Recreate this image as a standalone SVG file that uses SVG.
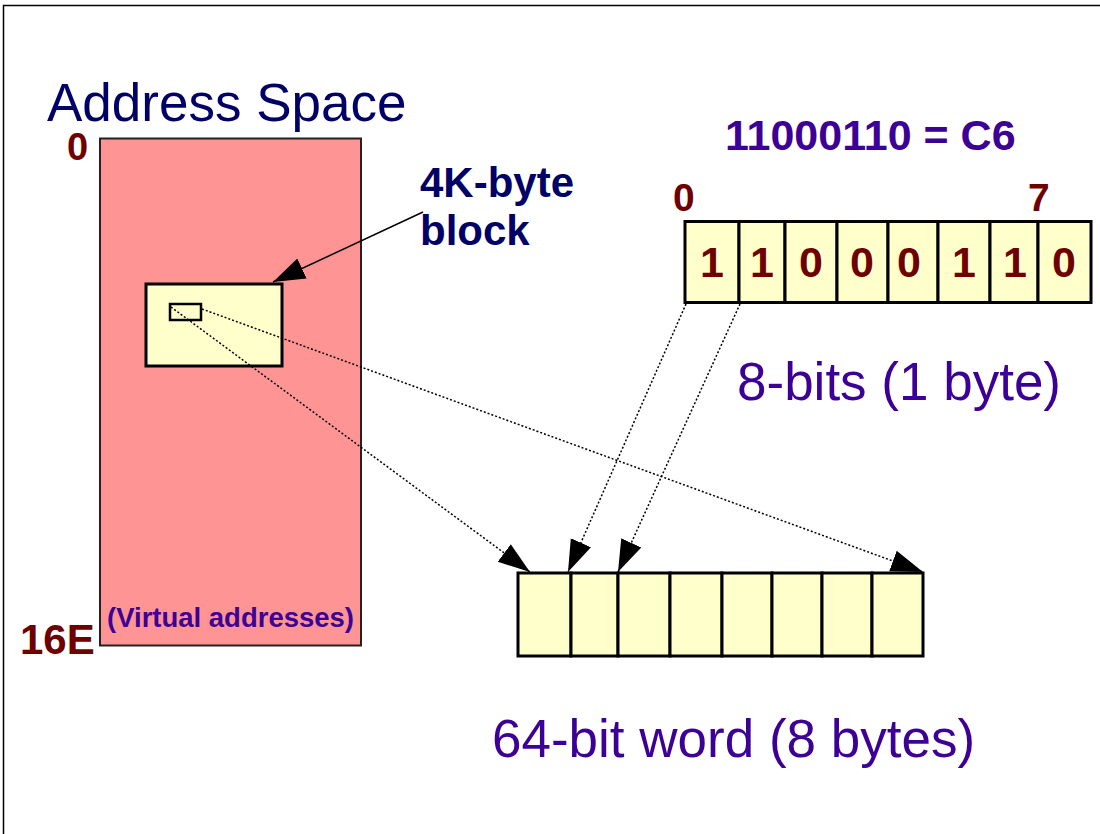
<svg xmlns="http://www.w3.org/2000/svg" width="1100" height="834" viewBox="0 0 1100 834">
<style>
.cell{fill:#ffffcc;stroke:#000;stroke-width:3}
.dot{fill:none;stroke:#000;stroke-width:1.5;stroke-dasharray:2 2}
.sans{font-family:"Liberation Sans",Arial,sans-serif}
.red{fill:#6e0000;font-weight:bold}
.pur{fill:#3d0096}
.navy{fill:#000066}
</style>
<defs>
<marker id="ah" markerUnits="userSpaceOnUse" markerWidth="34" markerHeight="24" viewBox="0 0 34 24" refX="32" refY="12" orient="auto">
<path d="M0,1 L32,12 L0,23 z" fill="#000"/>
</marker>
</defs>
<rect width="1100" height="834" fill="#fff"/>
<path d="M3.5,834 V5.5 H1100" fill="none" stroke="#000" stroke-width="1.5"/>

<g id="address-space">
<text x="47" y="121" class="sans navy" font-size="53">Address Space</text>
<rect x="100" y="138.5" width="261" height="507" fill="#ff9494" stroke="#222" stroke-width="2"/>
<text x="67" y="160" class="sans red" font-size="38">0</text>
<text x="20" y="654" class="sans red" font-size="42">16E</text>
<text x="107" y="627" class="sans pur" font-size="28" font-weight="bold" textLength="247" lengthAdjust="spacingAndGlyphs">(Virtual addresses)</text>
</g>

<g id="block">
<rect x="146" y="284" width="136" height="82" class="cell"/>
<rect x="170" y="304" width="31" height="16" fill="#ffffcc" stroke="#000" stroke-width="2.5"/>
</g>

<g id="block-label">
<text x="420" y="197" class="sans navy" font-size="42" font-weight="bold">4K-byte</text>
<text x="420" y="245" class="sans navy" font-size="42" font-weight="bold">block</text>
</g>

<g id="byte">
<text x="725" y="150" class="sans pur" font-size="43" font-weight="bold">11000110 = C6</text>
<text x="673" y="211" class="sans red" font-size="39">0</text>
<text x="1028" y="211" class="sans red" font-size="39">7</text>
<rect x="685" y="221.5" width="54" height="81" class="cell"/>
<rect x="739" y="221.5" width="46" height="81" class="cell"/>
<rect x="785" y="221.5" width="52" height="81" class="cell"/>
<rect x="837" y="221.5" width="51" height="81" class="cell"/>
<rect x="888" y="221.5" width="50" height="81" class="cell"/>
<rect x="938" y="221.5" width="52" height="81" class="cell"/>
<rect x="990" y="221.5" width="48" height="81" class="cell"/>
<rect x="1038" y="221.5" width="53" height="81" class="cell"/>
<g class="sans red" font-size="43" text-anchor="middle">
<text x="712" y="277">1</text>
<text x="762" y="277">1</text>
<text x="811" y="277">0</text>
<text x="862" y="277">0</text>
<text x="909" y="277">0</text>
<text x="964" y="277">1</text>
<text x="1015" y="277">1</text>
<text x="1064" y="277">0</text>
</g>
<text x="737" y="400" class="sans pur" font-size="53">8-bits (1 byte)</text>
</g>

<g id="word">
<rect x="518" y="573" width="53" height="83" class="cell"/>
<rect x="571" y="573" width="47" height="83" class="cell"/>
<rect x="618" y="573" width="52" height="83" class="cell"/>
<rect x="670" y="573" width="52" height="83" class="cell"/>
<rect x="722" y="573" width="50" height="83" class="cell"/>
<rect x="772" y="573" width="50" height="83" class="cell"/>
<rect x="822" y="573" width="50" height="83" class="cell"/>
<rect x="872" y="573" width="51" height="83" class="cell"/>
<text x="492" y="757" class="sans pur" font-size="53">64-bit word (8 bytes)</text>
</g>

<g id="connectors">
<line x1="423" y1="212" x2="273" y2="282" stroke="#000" stroke-width="1.5" marker-end="url(#ah)"/>
<line x1="171" y1="307" x2="530" y2="572" class="dot" marker-end="url(#ah)"/>
<line x1="202" y1="309" x2="923" y2="572" class="dot" marker-end="url(#ah)"/>
<line x1="686" y1="304" x2="568" y2="572" class="dot" marker-end="url(#ah)"/>
<line x1="740" y1="304" x2="618" y2="572" class="dot" marker-end="url(#ah)"/>
</g>
</svg>
